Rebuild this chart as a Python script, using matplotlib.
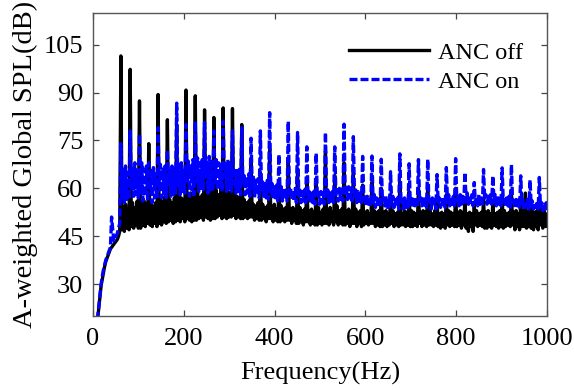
import numpy as np
import matplotlib.pyplot as plt

# harmonic spacing of the spectrum, 8 bins per harmonic
f0 = 20.48
bins_per_harmonic = 8

# SPL values (dB), one row per harmonic k: bins k*f0, k*f0 + f0/8, ...
anc_off = [
    [5, 9, 12, 15.5, 19, 22.5, 26, 29.5],
    [31.5, 33.5, 35.5, 37, 38, 39, 40, 41],
    [41.5, 42, 42.5, 43, 43.5, 44, 45, 46.5],
    [101.5, 47, 54, 46.5, 55, 47.5, 53.5, 47],
    [97.3, 48, 55.5, 47.5, 54, 48.5, 56, 47.5],
    [87.4, 47.5, 54.5, 48.5, 56, 48, 55, 49],
    [74, 48.5, 56, 48, 54.5, 49, 55.5, 48],
    [89.4, 49, 57, 48.5, 56, 49.5, 57.5, 49],
    [81.5, 49.5, 56.5, 50, 55.5, 49, 57, 49.5],
    [80, 50, 58, 49.5, 57, 50.5, 56.5, 49.5],
    [90.8, 50.5, 57.5, 50, 58.5, 49.5, 57, 50],
    [89, 50, 58.5, 50.5, 57, 51, 58, 50],
    [84.6, 51, 57, 50.5, 58.5, 50, 59, 50.5],
    [82.2, 50.5, 59.5, 51, 58, 51.5, 60, 50.5],
    [85.2, 51, 60, 50.5, 59, 51, 58.5, 51],
    [85, 51.5, 58, 50.5, 57.5, 51, 57, 50.5],
    [80, 50.5, 56.5, 51, 55.5, 50.5, 56, 51],
    [68, 51, 55, 50, 54.5, 50.5, 55.5, 50],
    [65, 50, 55, 50.5, 54, 49.5, 54.5, 50.5],
    [72, 50.5, 54, 49.5, 55, 50, 53.5, 49.5],
    [62, 49.5, 54.5, 50, 53.5, 49.5, 54, 50],
    [68, 50, 53.5, 49, 54, 50, 53, 49],
    [66, 49, 54, 49.5, 53, 48.5, 53.5, 49.5],
    [63, 49.5, 53, 48.5, 53.5, 49, 52.5, 48.5],
    [62, 48.5, 54, 49, 52.5, 48.5, 53.5, 49],
    [71.6, 49, 53, 48.5, 54, 49.5, 52.5, 48.5],
    [64, 49.5, 54.5, 48.5, 53, 49, 53.5, 48.5],
    [68, 48.5, 53, 49, 53.5, 48, 52.5, 49],
    [65, 49, 53.5, 48, 52.5, 49, 53, 48],
    [61, 48.5, 52.5, 49, 53, 48.5, 52, 49],
    [62, 49, 53, 48, 52.5, 48.5, 53, 48],
    [60, 48, 52.5, 48.5, 53, 48, 52, 48.5],
    [58, 49, 53, 48, 52, 48.5, 52.5, 48],
    [62, 48.5, 52, 48.5, 53, 48, 52.5, 48.5],
    [59, 48, 53, 48, 52.5, 48.5, 52, 48],
    [60, 49, 52.5, 48, 53, 48.5, 52.5, 48],
    [61, 48.5, 53, 48.5, 52, 48, 53, 48.5],
    [57, 48, 52, 47.5, 52.5, 48, 52, 47.5],
    [58, 48.5, 53, 48, 52.5, 48.5, 52, 48],
    [60, 48, 52.5, 48.5, 53, 47.5, 52.5, 48.5],
    [57, 47.5, 52, 46.5, 52.5, 48, 52, 46.5],
    [55, 48.5, 53, 48, 52, 48.5, 52.5, 48],
    [57, 47.5, 52.5, 47.5, 53, 48, 52, 47.5],
    [56, 48.5, 52, 48, 52.5, 47.5, 53, 48],
    [58, 47.5, 53, 48, 52, 48.5, 52.5, 48],
    [59, 48.5, 52.5, 47, 53, 48, 52, 47],
    [57, 48, 53, 48, 58.5, 47.5, 52.5, 48],
    [56, 47.5, 53, 47, 52.5, 48, 53, 47],
    [57, 48.5, 52.5, 47.5, 53, 48, 52, 48],
    [49],
]

anc_on = [
    [5, 9, 12.5, 16, 19.5, 23, 26.5, 30],
    [32.5, 34.5, 36, 37.5, 38.5, 39.5, 40.5, 41.5],
    [51, 47, 43.5, 44, 45, 46, 47.5, 49],
    [74, 57, 66, 55.5, 67, 56, 65, 56.5],
    [78, 60, 66, 57.5, 68, 58, 65.5, 57],
    [77, 58.5, 68, 56, 66, 57.5, 67, 56],
    [68, 59.5, 65.5, 55.5, 66.5, 57, 64.5, 56.5],
    [79, 59.5, 67.5, 57, 66, 58.5, 67, 57],
    [72, 61, 65.5, 57.5, 67, 58, 66, 58],
    [86.7, 61, 67.5, 58, 68, 59, 66.5, 58.5],
    [80, 62.5, 68.5, 57.5, 67, 59.5, 69, 58],
    [81, 62, 69.5, 59, 68, 60, 69, 59.5],
    [80.6, 63.5, 68, 58.5, 70, 59.5, 68.5, 59],
    [78, 62, 69, 59.5, 68, 60.5, 67.5, 59],
    [81, 63.5, 67.5, 59, 69, 59.5, 68, 58.5],
    [78, 61.5, 66.5, 58.5, 65.5, 59, 66, 58],
    [79, 61, 64, 58, 63.5, 58.5, 64.5, 57.5],
    [75.7, 60, 63.5, 57, 62.5, 58, 63, 57],
    [78, 59.5, 62, 57.5, 61.5, 57, 62.5, 56.5],
    [83.7, 58.5, 61.5, 56.5, 60.5, 57, 61, 56],
    [70.6, 58, 60.5, 56, 60, 56.5, 59.5, 56],
    [81, 58.5, 60, 56.5, 59.5, 56, 60, 55.5],
    [77.5, 57.5, 59.5, 55.5, 59, 56, 59.5, 55.5],
    [73, 57, 59, 56, 58.5, 55.5, 59, 55],
    [71, 57.5, 58.5, 55, 59, 55.5, 58.5, 55],
    [77.5, 57, 59.5, 55.5, 58.5, 56, 59, 55.5],
    [73, 57.5, 59.5, 56, 60, 56.5, 59.5, 56],
    [80.1, 58.5, 60, 56.5, 60.5, 57, 60, 56],
    [76.2, 57, 59.5, 55.5, 59, 56, 58.5, 55.5],
    [70, 56.5, 58, 54.5, 57.5, 55, 57, 54.5],
    [70.1, 55.5, 58, 54, 57, 54.5, 57.5, 54],
    [69.1, 56, 57, 54.5, 57.5, 54, 56.5, 54],
    [65.2, 55, 57.5, 54, 56.5, 54.5, 57, 53.5],
    [70.8, 55.5, 56.5, 53.5, 57, 54, 56.5, 54],
    [67.7, 55, 57.5, 54, 56.5, 54.5, 57, 54],
    [69, 56, 57, 54.5, 57.5, 54, 56.5, 54],
    [69.1, 55, 56.5, 53.5, 57, 54.5, 56.5, 53.5],
    [64.3, 55.5, 57, 54, 56.5, 54, 57, 54],
    [66.5, 55.5, 58, 54.5, 57, 55, 57.5, 54.5],
    [69.3, 56, 57.5, 54.5, 58, 55, 57.5, 55],
    [65, 56, 58.5, 55, 57.5, 55.5, 58, 54.5],
    [61.8, 55.5, 57.5, 54.5, 58, 55, 57, 54.5],
    [65.9, 56.5, 58, 55, 57.5, 55.5, 58, 55],
    [63.9, 56, 58, 54.5, 57, 55, 57.5, 54.5],
    [66.4, 55.5, 57.5, 54.5, 57, 54.5, 57.5, 54],
    [67.4, 55.5, 57, 54, 56.5, 54.5, 57, 54],
    [63.9, 55, 56.5, 54, 56, 54, 56.5, 53.5],
    [62.6, 54.5, 56, 53.5, 55.5, 54, 56, 53.5],
    [63.4, 54, 55.5, 53, 55, 53.5, 55.5, 53],
    [54],
]

xticks = [0, 200, 400, 600, 800, 1000]
yticks = [30, 45, 60, 75, 90, 105]

off = np.concatenate([np.array(r, float) for r in anc_off])
on = np.concatenate([np.array(r, float) for r in anc_on])
freq = np.arange(len(off)) * f0 / bins_per_harmonic

plt.rcParams['font.family'] = ['Liberation Serif', 'DejaVu Serif']

fig = plt.figure(figsize=(5.74, 3.9), dpi=100)
ax = fig.add_axes([0.162, 0.19, 0.791, 0.777])

ax.plot(freq, off, color='black', lw=2.4, label='ANC off')
ax.plot(freq, on, color='#0000ff', lw=2.4, dashes=(2.4, 0.9), label='ANC on')

ax.set_xlim(0, 1000)
ax.set_ylim(20, 115)
ax.set_xticks(xticks)
ax.set_yticks(yticks)
ax.tick_params(direction='in', length=4, width=0.9, color='#444444',
               top=True, right=True, labelsize=19)
ax.tick_params(axis='x', pad=9)
ax.tick_params(axis='y', pad=7)
for s in ax.spines.values():
    s.set_color('#555555')
    s.set_linewidth(1.0)

ax.set_xlabel('Frequency(Hz)', fontsize=19, labelpad=8)
ax.set_ylabel('A-weighted Global SPL(dB)', fontsize=20.5, labelpad=4)

ax.legend(loc='upper right', bbox_to_anchor=(1.0, 0.984), frameon=False,
          fontsize=17.5, handlelength=3.3, handletextpad=0.37,
          labelspacing=0.3, borderaxespad=0.58)

fig.savefig('out.png', dpi=100)
